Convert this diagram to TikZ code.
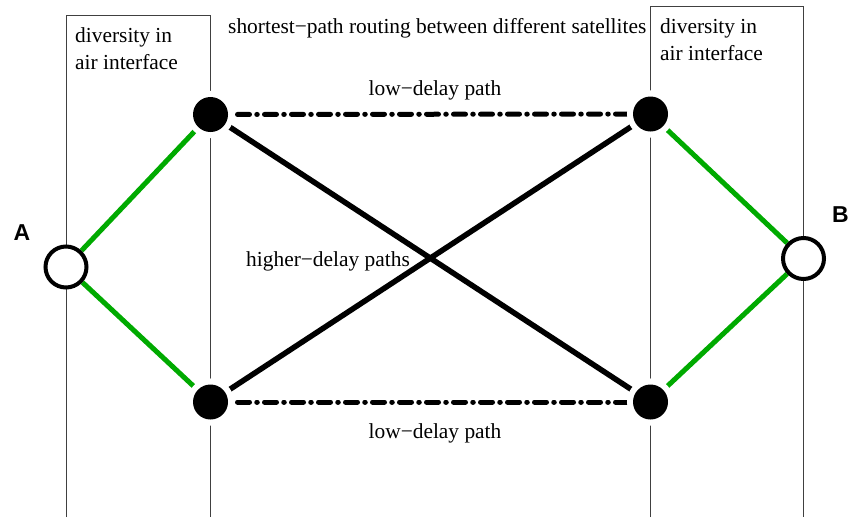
\documentclass[tikz,border=0pt]{standalone}
\usepackage{fontspec}
\setmainfont{Liberation Serif}
\newfontfamily\labelfont{Liberation Sans}
\pgfdeclarelayer{background}
\pgfsetlayers{background,main}
\definecolor{pathgreen}{RGB}{0,170,0}
\tikzset{
  sat/.style={circle, fill=black, inner sep=0pt, minimum size=35pt,
              preaction={draw=white, line width=12pt}},
  term/.style={circle, fill=white, draw=black, line width=4pt, inner sep=0pt, minimum size=41pt},
  boxline/.style={line width=1pt, draw=black!75},
  airlink/.style={line width=5pt, draw=pathgreen},
  crosslink/.style={line width=5.5pt, draw=black},
  lowdelay/.style={line width=5pt, draw=black, line cap=round,
                   dash pattern=on 12pt off 7.25pt on 0.5pt off 7.25pt},
  txt/.style={font=\fontsize{21.4}{27}\selectfont, inner sep=0pt},
  endlabel/.style={font=\labelfont\bfseries\fontsize{23}{27}\selectfont, inner sep=0pt}
}
\begin{document}
\begin{tikzpicture}[x=1pt,y=-1pt]
\useasboundingbox (0,0) rectangle (848,517);
% nodes
\node[sat] (tl) at (210.5,114.5) {};
\node[sat] (tr) at (650.5,114) {};
\node[sat] (bl) at (210.5,402) {};
\node[sat] (br) at (650.5,402) {};
\node[term] (A) at (66,267) {};
\node[term] (B) at (803.5,258.5) {};
\coordinate (lb1) at (66,517);
\coordinate (lt1) at (66,15);
\coordinate (rt1) at (210.5,15);
\coordinate (rb1) at (210.5,517);
\coordinate (lb2) at (650.5,517);
\coordinate (lt2) at (650.5,6);
\coordinate (rt2) at (803.5,6);
\coordinate (rb2) at (803.5,517);
\begin{pgfonlayer}{background}
\draw[boxline] (lb1) -- (lt1) -- (rt1) -- (rb1);
\draw[boxline] (lb2) -- (lt2) -- (rt2) -- (rb2);
\draw[airlink] (A) -- (tl.center);
\draw[airlink] (A) -- (bl.center);
\draw[airlink] (B) -- (tr.center);
\draw[airlink] (B) -- (br.center);
\draw[crosslink] (tl.center) -- (br.center);
\draw[crosslink] (bl.center) -- (tr.center);
\draw[lowdelay] (tl.center) -- (tr.center);
\draw[lowdelay] (bl.center) -- (br.center);
\end{pgfonlayer}
% texts
\node[txt, anchor=base west, align=left] (d1) at (75,69) {diversity in\\air interface};
\node[txt, anchor=base west, align=left] (d2) at (660,60) {diversity in\\air interface};
\node[txt, anchor=base west] (title) at (228,33) {shortest−path routing between different satellites};
\node[txt, anchor=base] (low1) at (435,95) {low−delay path};
\node[txt, anchor=base] (low2) at (435,438) {low−delay path};
\node[txt, anchor=base west] (high) at (246,266.5) {higher−delay paths};
\node[endlabel, anchor=base] (labA) at (22,240) {A};
\node[endlabel, anchor=base] (labB) at (840.5,222) {B};
\end{tikzpicture}
\end{document}
